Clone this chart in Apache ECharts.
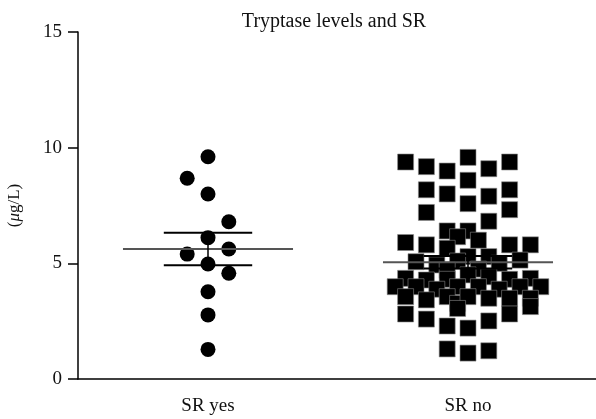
<!DOCTYPE html>
<html>
<head>
<meta charset="utf-8">
<script src="https://cdn.jsdelivr.net/npm/echarts@6/dist/echarts.min.js"></script>
<style>html,body{margin:0;padding:0;background:#fff}#c{width:596px;height:419px}</style>
</head>
<body>
<div id="c"></div>
<script>
// ---- data ----
const categories = ['SR yes', 'SR no'];
const yTicks = [0, 5, 10, 15];
// SR yes: tryptase values and swarm column (half-step units)
const srYesValues = [9.61, 8.68, 8.0, 6.8, 6.11, 5.4, 5.62, 4.97, 4.57, 3.77, 2.77, 1.28];
const srYesCols   = [0, -2, 0, 2, 0, -2, 2, 0, 2, 0, 0, 0];
// SR no
const srNoValues = [
  9.38, 9.18, 8.99, 9.58, 9.09, 9.38,
  8.18, 8.0, 8.59, 7.9, 8.18,
  7.2, 7.58, 7.32, 6.82,
  6.4, 6.4, 6.15, 6.0,
  5.9, 5.8, 5.65, 5.8, 5.8,
  5.07, 4.93, 5.29, 5.29, 5.0, 5.14, 5.1, 4.7, 4.75,
  4.35, 4.28, 4.31, 4.5, 4.42, 4.31, 4.35,
  3.99, 3.99, 3.88, 3.99, 3.99, 3.88, 3.99, 3.99,
  3.56, 3.42, 3.56, 3.27, 3.56, 3.49, 3.49, 3.49,
  3.05, 2.81, 2.59, 2.29, 2.2, 2.51, 2.81, 3.13,
  1.3, 1.12, 1.22
];
const srNoCols = [
  -6, -4, -2, 0, 2, 4,
  -4, -2, 0, 2, 4,
  -4, 0, 4, 2,
  -2, 0, -1, 1,
  -6, -4, -2, 4, 6,
  -5, -3, 0, 2, 3, 5, -1, -2, 1,
  -6, -4, -2, 0, 2, 4, 6,
  -7, -5, -3, -1, 1, 3, 5, 7,
  -6, -4, -2, -1, 0, 2, 4, 6,
  -1, -6, -4, -2, 0, 2, 4, 6,
  -2, 0, 2
];
// mean and SEM
const means = [5.62, 5.05];
const sems  = [0.70, 0.27];

// ---- layout helpers ----
const colStep = 0.04;      // x-units per half-step column
const meanHalf = 0.327;    // half width of mean line
const semHalf = 0.17;      // half width of SEM lines
function pts(values, cols, center) {
  return values.map((v, i) => [center + cols[i] * colStep, v]);
}
const centers = [0.5, 1.5];
const lineSeries = [];
centers.forEach((c, i) => {
  const m = means[i], s = sems[i];
  lineSeries.push({
    type: 'line', xAxisIndex: 1, symbol: 'none', z: 5, silent: true,
    lineStyle: { color: '#555', width: 2 },
    data: [[c - meanHalf, m], [c + meanHalf, m]]
  });
  [m + s, m - s].forEach(v => lineSeries.push({
    type: 'line', xAxisIndex: 1, symbol: 'none', z: 5, silent: true,
    lineStyle: { color: '#000', width: 2 },
    data: [[c - semHalf, v], [c + semHalf, v]]
  }));
  lineSeries.push({
    type: 'line', xAxisIndex: 1, symbol: 'none', z: 5, silent: true,
    lineStyle: { color: '#000', width: 1.5 },
    data: [[c, m - s], [c, m + s]]
  });
});

const FONT = 'Liberation Serif';
const chart = echarts.init(document.getElementById('c'), null, { renderer: 'canvas' });
chart.setOption({
  animation: false,
  backgroundColor: '#fff',
  title: {
    text: 'Tryptase levels and SR', left: 329, top: 7, textAlign: 'center',
    textStyle: { fontFamily: FONT, fontSize: 20, fontWeight: 'normal', color: '#111' }
  },
  grid: { left: 78, top: 32, width: 520, height: 347, outerBoundsMode: 'none', containLabel: false },
  xAxis: [{
    type: 'category', data: categories, boundaryGap: true,
    axisLine: { lineStyle: { color: '#000', width: 1.5 } },
    axisTick: { alignWithLabel: true, length: 9, lineStyle: { color: '#000', width: 1.5 } },
    axisLabel: { fontFamily: FONT, fontSize: 19, color: '#111', margin: 18 },
    splitLine: { show: false }
  }, {
    type: 'value', min: 0, max: 2, show: false
  }],
  yAxis: {
    type: 'value', min: 0, max: 15, interval: 5,
    name: '({i|μ}g/L)', nameLocation: 'middle', nameGap: 55, nameRotate: 90,
    nameTextStyle: { fontFamily: FONT, fontSize: 17, color: '#111',
      rich: { i: { fontFamily: FONT, fontSize: 17, fontStyle: 'italic', color: '#111' } } },
    axisLine: { show: true, lineStyle: { color: '#000', width: 1.5 } },
    axisTick: { show: true, length: 10, lineStyle: { color: '#000', width: 1.5 } },
    axisLabel: { fontFamily: FONT, fontSize: 19, color: '#111', margin: 16,
      formatter: v => yTicks.includes(v) ? String(v) : '' },
    splitLine: { show: false }
  },
  series: [
    { type: 'scatter', xAxisIndex: 1, symbol: 'circle', symbolSize: 15,
      itemStyle: { color: '#000', opacity: 1 }, data: pts(srYesValues, srYesCols, centers[0]) },
    { type: 'scatter', xAxisIndex: 1, symbol: 'rect', symbolSize: 16,
      itemStyle: { color: '#000', opacity: 1, borderColor: '#888', borderWidth: 0.6 }, data: pts(srNoValues, srNoCols, centers[1]) }
  ].concat(lineSeries)
});
</script>
</body>
</html>
